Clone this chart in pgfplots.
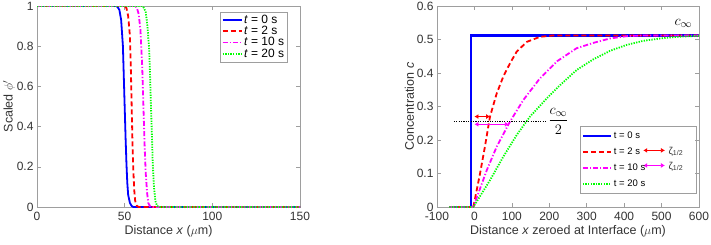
\documentclass[border=0pt]{standalone}
\usepackage{pgfplots}
\pgfplotsset{compat=1.18}
\usepackage{amsmath}
\usepackage{fontspec}
\setmainfont{Liberation Sans}
\usetikzlibrary{arrows.meta}
\definecolor{axgray}{gray}{0.62}
\definecolor{txtgray}{gray}{0.2}
\definecolor{mblue}{rgb}{0,0,1}
\definecolor{mred}{rgb}{1,0,0}
\definecolor{mmag}{rgb}{1,0,1}
\definecolor{mgreen}{rgb}{0,1,0}
\pgfplotsset{
  mystyle/.style={
    scale only axis,
    axis line style={axgray},
    tick style={axgray, line width=0.6pt},
    major tick length=4pt,
    every axis plot/.append style={line width=1.8pt},
    tick label style={font=\fontsize{12}{14}\selectfont, color=txtgray},
    xticklabel style={yshift=-2pt},
    label style={font=\fontsize{12.5}{14}\selectfont, color=txtgray},
    /pgf/number format/assume math mode=true,
    legend cell align=left,
  }
}
\begin{document}
\begin{tikzpicture}
\path[use as bounding box] (0,0) rectangle (711pt,244pt);
% ---------------- left axis ----------------
\begin{axis}[mystyle,
  at={(37pt,37pt)}, anchor=south west,
  width=263pt, height=201pt,
  xmin=0, xmax=150, ymin=0, ymax=1,
  xtick={0,50,100,150}, ytick={0,0.2,0.4,0.6,0.8,1},
  yticklabels={0,0.2,0.4,0.6,0.8,1},
  xlabel={Distance \textit{x} ($\mu$m)},
  ylabel={Scaled $\phi'$},
  xlabel style={yshift=2pt},
  ylabel style={yshift=-5pt},
  legend style={at={(0.952,0.972)}, anchor=north east, draw=axgray, fill=white,
    font=\fontsize{12}{13}\selectfont, inner sep=1.5pt, row sep=-1.5pt,
    nodes={inner sep=1.5pt}},
  legend image code/.code={\draw[#1] (0pt,0pt) -- (19pt,0pt);},
]
\addplot[mblue] coordinates {(0,1)(45,1)(46,0.995)(47,0.98)(48,0.93)(49,0.8)(49.5,0.65)(50,0.5)(50.5,0.35)(51,0.22)(51.5,0.12)(52,0.06)(53,0.02)(54,0.005)(55,0)(150,0)};
\addlegendentry{\textit{t} = 0 s}
\addplot[mred, dash pattern=on 5pt off 3pt] coordinates {(0,1)(50,1)(51,0.99)(52,0.95)(53,0.85)(53.5,0.7)(54,0.5)(54.5,0.3)(55,0.17)(55.5,0.08)(56,0.03)(57,0.005)(58,0)(150,0)};
\addlegendentry{\textit{t} = 2 s}
\addplot[mmag, dash pattern=on 5pt off 2pt on 1.2pt off 2pt] coordinates {(0,1)(56,1)(57,0.99)(58,0.96)(59,0.88)(60,0.7)(60.7,0.5)(61.4,0.3)(62,0.17)(62.8,0.07)(63.5,0.02)(64.5,0.003)(66,0)(150,0)};
\addlegendentry{\textit{t} = 10 s}
\addplot[mgreen, dash pattern=on 1.3pt off 1.3pt] coordinates {(0,1)(60,1)(61,0.99)(62,0.97)(63,0.9)(64,0.78)(64.5,0.65)(65,0.5)(65.5,0.37)(66,0.22)(66.7,0.1)(67.5,0.03)(68.5,0.005)(70,0)(150,0)};
\addlegendentry{\textit{t} = 20 s}
\end{axis}
% ---------------- right axis ----------------
\begin{axis}[mystyle,
  at={(437pt,37pt)}, anchor=south west,
  width=262pt, height=201pt,
  xmin=-100, xmax=600, ymin=0, ymax=0.6,
  xtick={-100,0,100,200,300,400,500,600},
  ytick={0,0.1,0.2,0.3,0.4,0.5,0.6},
  yticklabels={0,0.1,0.2,0.3,0.4,0.5,0.6},
  xlabel={Distance \textit{x} zeroed at Interface ($\mu$m)},
  ylabel={Concentration \textit{c}},
  xlabel style={yshift=2pt},
  ylabel style={yshift=-4pt},
  clip=false,
  legend style={at={(0.991,0.403)}, anchor=north east, draw=axgray, fill=none,
    font=\fontsize{9.5}{10}\selectfont, inner sep=1.5pt, row sep=0pt,
    nodes={inner sep=2pt, text height=9pt, text depth=3pt}},
  legend image code/.code={\draw[#1] (0pt,0pt) -- (28pt,0pt);},
]
\addplot[mblue, line width=2.1pt] coordinates {(-67,0)(-8,0)(-8,0.512)(600,0.512)};
\addlegendentry{\makebox[79pt][l]{t = 0 s}}
\addplot[mred, dash pattern=on 5pt off 3pt] coordinates {(-67,0)(-3,0)(15,0.10)(28,0.18)(41.6,0.27)(59.5,0.339)(77,0.389)(95,0.429)(113,0.464)(140,0.493)(175,0.508)(210,0.512)(600,0.512)};
\addlegendentry{\makebox[79pt][l]{t = 2 s}}
\addplot[mmag, dash pattern=on 5pt off 2pt on 1.2pt off 2pt] coordinates {(-67,0)(-3,0)(33,0.11)(59.5,0.18)(95,0.255)(131,0.32)(175,0.384)(222,0.436)(273,0.474)(318,0.49)(362,0.503)(407,0.51)(450,0.512)(600,0.512)};
\addlegendentry{\makebox[79pt][l]{t = 10 s}}
\addplot[mgreen, dash pattern=on 1.3pt off 1.3pt] coordinates {(-67,0)(-3,0)(41.6,0.08)(77,0.15)(113,0.215)(148.5,0.27)(193,0.324)(229,0.364)(273,0.409)(318,0.441)(362,0.466)(407,0.484)(451,0.496)(496,0.503)(540,0.508)(600,0.511)};
\addlegendentry{\makebox[79pt][l]{t = 20 s}}
\addplot[black, line width=1.3pt, dash pattern=on 1.2pt off 1.2pt, forget plot] coordinates {(-55,0.256)(195,0.256)};
\addplot[mred, line width=1.5pt, {Latex[length=4pt,width=5pt]}-{Latex[length=4pt,width=5pt]}, forget plot] coordinates {(0,0.27)(42,0.27)};
\addplot[mmag, line width=1.5pt, {Latex[length=4pt,width=5pt]}-{Latex[length=4pt,width=5pt]}, forget plot] coordinates {(0,0.247)(92,0.247)};
\addplot[mred, line width=1.5pt, {Latex[length=4pt,width=5pt]}-{Latex[length=4pt,width=5pt]}, forget plot] coordinates {(451,0.169)(509,0.169)};
\addplot[mmag, line width=1.5pt, {Latex[length=4pt,width=5pt]}-{Latex[length=4pt,width=5pt]}, forget plot] coordinates {(451,0.124)(509,0.124)};
\node[anchor=west, font=\fontsize{10}{11}\selectfont, color=txtgray, inner sep=0pt] at (axis cs:518,0.166) {ζ\textsubscript{1/2}};
\node[anchor=west, font=\fontsize{10}{11}\selectfont, color=txtgray, inner sep=0pt] at (axis cs:518,0.121) {ζ\textsubscript{1/2}};
\node[font=\fontsize{15}{16}\selectfont] at (axis cs:558,0.548) {$c_\infty$};
\node[font=\fontsize{15}{16}\selectfont] at (axis cs:224,0.256) {$\dfrac{c_\infty}{2}$};
\end{axis}
\end{tikzpicture}
\end{document}
